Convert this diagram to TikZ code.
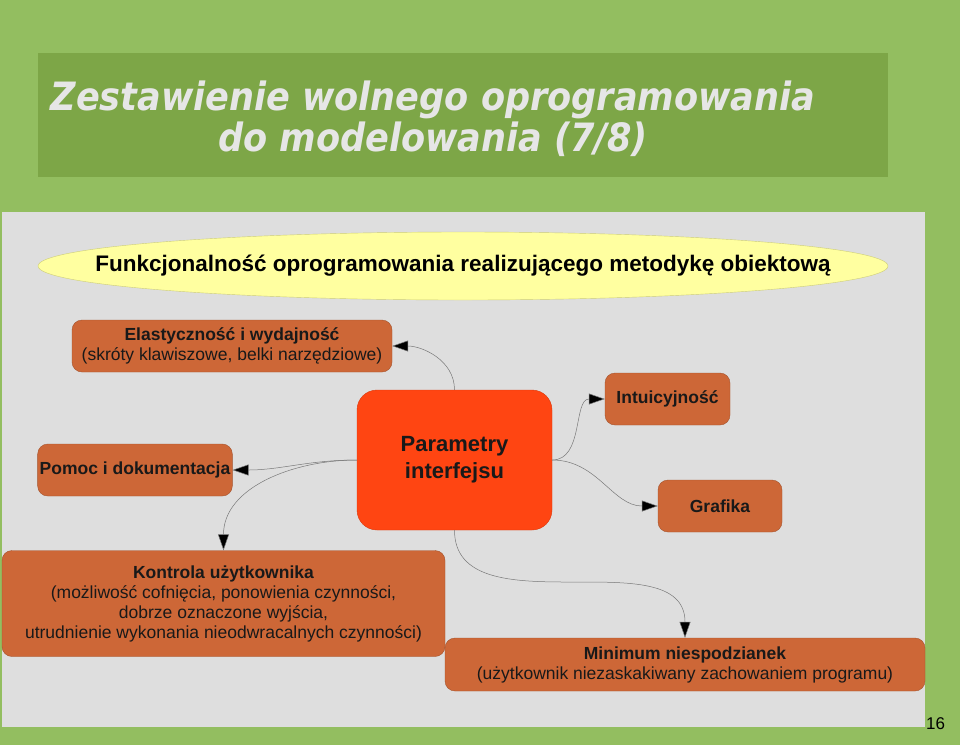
\documentclass[tikz,border=0pt]{standalone}
\usepackage{fontspec}
\setmainfont{Liberation Sans}
\newfontfamily\titlefont{DejaVu Sans Condensed}
\usepackage{tikz}
\usetikzlibrary{arrows.meta,positioning,shapes.geometric}
\definecolor{bggreen}{RGB}{147,190,96}
\definecolor{titlegreen}{RGB}{125,166,71}
\definecolor{titletext}{RGB}{230,230,230}
\definecolor{panelgray}{RGB}{222,222,222}
\definecolor{ellfill}{RGB}{255,255,160}
\definecolor{elldraw}{RGB}{205,205,120}
\definecolor{boxfill}{RGB}{205,103,55}
\definecolor{mainfill}{RGB}{255,69,18}
\definecolor{linkgray}{RGB}{120,120,120}
\tikzset{%
	topic/.style    = {draw=boxfill!80!black, fill=boxfill, rectangle, rounded corners=10pt, align=center, inner sep=2pt, text=black!90, font=\fontsize{17.5}{20}\selectfont}, % side box
	central/.style  = {draw=mainfill!85!black, fill=mainfill, rectangle, rounded corners=20pt, align=center, text=black!90}, % main box
	banner/.style   = {draw=elldraw, fill=ellfill, ellipse, inner sep=0pt}, % top ellipse
	link/.style     = {draw=linkgray, line width=0.5pt, -{Triangle[length=16pt,width=11pt,fill=black]}}, % connector
	boldfont/.style = {font=\bfseries\fontsize{17.5}{20}\selectfont},
}
\begin{document}
\begin{tikzpicture}[x=1pt,y=-1pt]
	\useasboundingbox (0,0) rectangle (960,745);
	\fill[bggreen] (0,0) rectangle (960,745);
	\fill[titlegreen] (38,53) rectangle (888,177);
	\node[text=titletext,align=center,font=\titlefont\bfseries\itshape\fontsize{39}{41}\selectfont] (title) at (433,119) {Zestawienie wolnego oprogramowania\\do modelowania (7/8)};
	\fill[panelgray] (2,212) rectangle (925,727);
	\node[font=\fontsize{17}{17}\selectfont,anchor=base west,inner sep=1pt] (num) at (925,729) {16};
	
	\node[banner,minimum width=850pt,minimum height=68pt] (fun) at (463,266) {};
	\node[font=\bfseries\fontsize{22.5}{22.5}\selectfont] (funtext) at (fun.center) {Funkcjonalność oprogramowania realizującego metodykę obiektową};
	
	\node[central,minimum width=195pt,minimum height=140pt,font=\bfseries\fontsize{22}{27}\selectfont] (par) at (454.5,460) {Parametry\\interfejsu};
	\node[topic,minimum width=320pt,minimum height=52pt] (ela) at (232,346) {\textbf{Elastyczność i wydajność}\\(skróty klawiszowe, belki narzędziowe)};
	\node[topic,boldfont,minimum width=125pt,minimum height=52pt] (int) at (667.5,399) {Intuicyjność};
	\node[topic,boldfont,minimum width=194pt,minimum height=52pt] (pom) at (135,470) {Pomoc i dokumentacja};
	\node[topic,boldfont,minimum width=124pt,minimum height=52pt] (gra) at (720,506) {Grafika};
	\node[topic,minimum width=443pt,minimum height=106pt,font=\fontsize{17.5}{20}\selectfont] (kon) at (223.5,603.5) {\textbf{Kontrola użytkownika}\\(możliwość cofnięcia, ponowienia czynności,\\dobrze oznaczone wyjścia,\\utrudnienie wykonania nieodwracalnych czynności)};
	\node[topic,minimum width=480pt,minimum height=53pt] (min) at (685,664.5) {\textbf{Minimum niespodzianek}\\(użytkownik niezaskakiwany zachowaniem programu)};
	
	\draw[link] (par.north) to[out=90,in=0] (ela.east);
	\draw[link] (par.east) to[out=0,in=180] (int.west);
	\draw[link] (par.east) to[out=0,in=180] (gra.west);
	\draw[link] (par.west) to[out=180,in=0] (pom.east);
	\draw[link] (par.west) to[out=180,in=90] (kon.north);
	\draw[link] (par.south) to[out=-90,in=90] (min.north);
\end{tikzpicture}
\end{document}
